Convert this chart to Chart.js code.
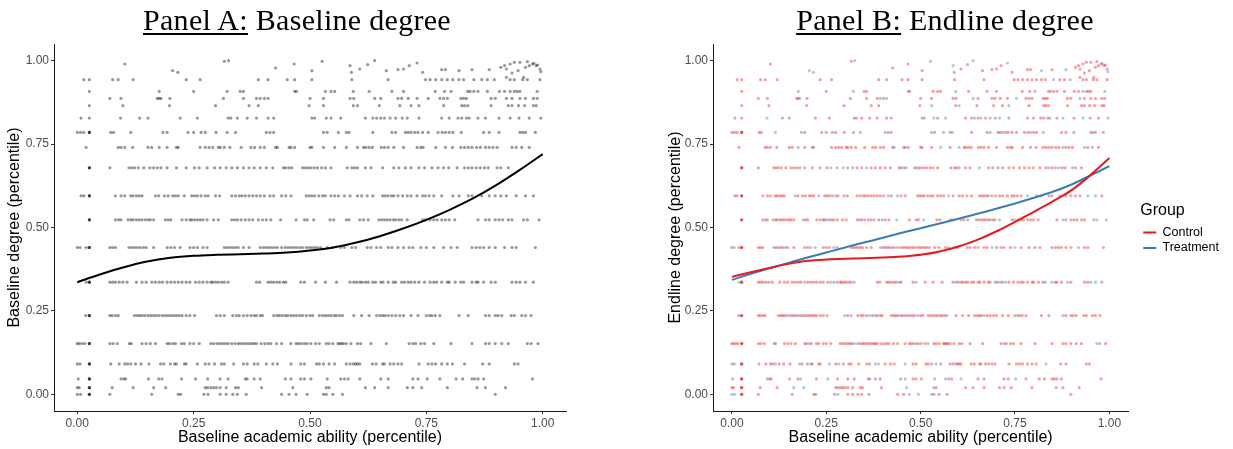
<!DOCTYPE html>
<html><head><meta charset="utf-8">
<script src="https://cdn.jsdelivr.net/npm/chart.js@4.4.1/dist/chart.umd.min.js"></script>
<style>
html,body{margin:0;padding:0;background:#fff;width:1233px;height:449px;overflow:hidden;}
.panel{position:absolute;top:0;height:449px;}
.title{position:absolute;top:3px;font-family:'Liberation Serif','Times New Roman',serif;font-size:30px;line-height:34px;letter-spacing:0.3px;color:#000;white-space:nowrap;transform:translateX(-50%);z-index:2;}
.title u{text-decoration-thickness:1.5px;text-underline-offset:3px;}
</style></head>
<body>
<div class="panel" style="left:0;width:600px"><canvas id="cA"></canvas></div>
<div class="panel" style="left:660px;width:573px"><canvas id="cB"></canvas></div>
<div class="title" style="left:297px"><u>Panel A:</u> Baseline degree</div>
<div class="title" style="left:945px"><u>Panel B:</u> Endline degree</div>
<script>
// ---- tick labels ----
const xTickValues = [0, 0.25, 0.5, 0.75, 1];
const xTickLabels = ['0.00', '0.25', '0.50', '0.75', '1.00'];
const yTickValues = [0, 0.25, 0.5, 0.75, 1];
const yTickLabels = ['0.00', '0.25', '0.50', '0.75', '1.00'];

// ---- degree percentile levels (rows of points) ----
const rowLevels = [0.000, 0.020, 0.046, 0.091, 0.152, 0.236, 0.336, 0.440, 0.523, 0.595, 0.679, 0.740, 0.785, 0.828, 0.865, 0.887, 0.908, 0.943];

// ---- baseline academic ability of students at each level ----
const rowX = [
 [0, 0.007, 0.026, 0.026, 0.026, 0.07, 0.16, 0.217, 0.222, 0.272, 0.281, 0.307, 0.32, 0.334, 0.344, 0.363, 0.439, 0.455, 0.47, 0.494, 0.529, 0.535, 0.549, 0.57, 0.898],
 [0, 0.004, 0.026, 0.026, 0.026, 0.075, 0.12, 0.164, 0.19, 0.275, 0.28, 0.287, 0.293, 0.299, 0.307, 0.32, 0.34, 0.346, 0.396, 0.463, 0.535, 0.541, 0.619, 0.639, 0.668, 0.709, 0.721, 0.74, 0.795, 0.859, 0.877, 0.92],
 [0.002, 0.026, 0.026, 0.026, 0.094, 0.1, 0.104, 0.153, 0.175, 0.182, 0.224, 0.254, 0.28, 0.307, 0.324, 0.361, 0.365, 0.38, 0.393, 0.447, 0.459, 0.48, 0.488, 0.502, 0.537, 0.566, 0.574, 0.582, 0.607, 0.652, 0.668, 0.721, 0.732, 0.752, 0.779, 0.814, 0.828, 0.848, 0.854, 0.861, 0.873, 0.978],
 [0, 0.006, 0.026, 0.026, 0.026, 0.072, 0.09, 0.102, 0.108, 0.115, 0.125, 0.137, 0.154, 0.179, 0.186, 0.2, 0.209, 0.213, 0.23, 0.234, 0.258, 0.275, 0.283, 0.295, 0.31, 0.316, 0.336, 0.357, 0.365, 0.38, 0.388, 0.406, 0.42, 0.43, 0.459, 0.48, 0.488, 0.514, 0.52, 0.529, 0.541, 0.553, 0.578, 0.586, 0.593, 0.598, 0.602, 0.607, 0.634, 0.642, 0.656, 0.66, 0.672, 0.68, 0.689, 0.697, 0.734, 0.754, 0.762, 0.77, 0.783, 0.795, 0.806, 0.832, 0.871, 0.885, 0.939, 0.947],
 [0, 0.004, 0.01, 0.016, 0.026, 0.026, 0.026, 0.07, 0.077, 0.086, 0.112, 0.116, 0.139, 0.148, 0.157, 0.168, 0.193, 0.198, 0.205, 0.211, 0.224, 0.23, 0.242, 0.25, 0.262, 0.287, 0.293, 0.3, 0.306, 0.312, 0.318, 0.324, 0.332, 0.339, 0.346, 0.351, 0.357, 0.363, 0.369, 0.375, 0.38, 0.385, 0.395, 0.403, 0.41, 0.416, 0.428, 0.439, 0.459, 0.47, 0.475, 0.481, 0.488, 0.494, 0.502, 0.512, 0.52, 0.535, 0.541, 0.549, 0.56, 0.564, 0.568, 0.572, 0.578, 0.588, 0.602, 0.609, 0.631, 0.664, 0.713, 0.721, 0.727, 0.738, 0.746, 0.766, 0.803, 0.848, 0.877, 0.885, 0.898, 0.912, 0.926, 0.967, 0.975, 0.99],
 [0.018, 0.026, 0.026, 0.026, 0.07, 0.075, 0.082, 0.088, 0.123, 0.129, 0.134, 0.139, 0.145, 0.152, 0.158, 0.164, 0.17, 0.176, 0.183, 0.189, 0.195, 0.201, 0.207, 0.213, 0.219, 0.225, 0.234, 0.242, 0.252, 0.299, 0.307, 0.316, 0.334, 0.342, 0.348, 0.357, 0.365, 0.373, 0.38, 0.385, 0.393, 0.398, 0.422, 0.429, 0.434, 0.44, 0.447, 0.452, 0.459, 0.465, 0.471, 0.478, 0.484, 0.492, 0.5, 0.506, 0.52, 0.527, 0.533, 0.539, 0.545, 0.552, 0.557, 0.564, 0.57, 0.594, 0.611, 0.627, 0.643, 0.65, 0.656, 0.661, 0.668, 0.676, 0.684, 0.693, 0.701, 0.717, 0.732, 0.75, 0.757, 0.762, 0.769, 0.779, 0.82, 0.84, 0.877, 0.885, 0.898, 0.904, 0.912, 0.932, 0.939, 0.955, 0.963, 0.975],
 [0.019, 0.026, 0.026, 0.026, 0.07, 0.076, 0.082, 0.09, 0.098, 0.107, 0.127, 0.139, 0.148, 0.16, 0.168, 0.176, 0.183, 0.193, 0.201, 0.209, 0.217, 0.225, 0.234, 0.242, 0.254, 0.262, 0.27, 0.279, 0.287, 0.291, 0.297, 0.303, 0.31, 0.316, 0.324, 0.385, 0.392, 0.41, 0.416, 0.422, 0.429, 0.435, 0.443, 0.448, 0.48, 0.488, 0.512, 0.533, 0.557, 0.586, 0.594, 0.6, 0.607, 0.612, 0.619, 0.625, 0.635, 0.641, 0.652, 0.657, 0.668, 0.679, 0.684, 0.697, 0.703, 0.711, 0.717, 0.725, 0.734, 0.746, 0.758, 0.766, 0.772, 0.783, 0.795, 0.799, 0.812, 0.824, 0.83, 0.848, 0.857, 0.861, 0.873, 0.889, 0.898, 0.934, 0.943, 0.951, 0.963, 0.98],
 [0, 0.006, 0.019, 0.026, 0.026, 0.026, 0.07, 0.076, 0.082, 0.111, 0.117, 0.123, 0.129, 0.135, 0.142, 0.148, 0.164, 0.193, 0.201, 0.209, 0.221, 0.242, 0.25, 0.258, 0.27, 0.279, 0.316, 0.322, 0.328, 0.334, 0.34, 0.346, 0.357, 0.369, 0.393, 0.4, 0.406, 0.412, 0.418, 0.424, 0.43, 0.439, 0.447, 0.453, 0.459, 0.465, 0.471, 0.478, 0.484, 0.492, 0.498, 0.504, 0.51, 0.516, 0.523, 0.537, 0.549, 0.566, 0.574, 0.59, 0.598, 0.623, 0.631, 0.643, 0.652, 0.668, 0.676, 0.689, 0.701, 0.713, 0.721, 0.738, 0.75, 0.766, 0.787, 0.803, 0.816, 0.848, 0.857, 0.865, 0.873, 0.885, 0.898, 0.918, 0.934, 0.943, 0.984],
 [0.026, 0.026, 0.026, 0.082, 0.089, 0.094, 0.109, 0.115, 0.12, 0.127, 0.133, 0.139, 0.146, 0.152, 0.157, 0.164, 0.189, 0.195, 0.201, 0.225, 0.234, 0.242, 0.246, 0.252, 0.258, 0.264, 0.27, 0.279, 0.293, 0.303, 0.332, 0.338, 0.344, 0.352, 0.361, 0.369, 0.377, 0.389, 0.398, 0.406, 0.416, 0.437, 0.47, 0.488, 0.494, 0.508, 0.543, 0.551, 0.578, 0.584, 0.607, 0.615, 0.625, 0.648, 0.654, 0.66, 0.666, 0.672, 0.679, 0.684, 0.691, 0.697, 0.709, 0.742, 0.748, 0.758, 0.766, 0.773, 0.783, 0.791, 0.799, 0.811, 0.861, 0.877, 0.885, 0.898, 0.906, 0.914, 0.926, 0.934, 0.959, 0.967, 0.992],
 [0.008, 0.014, 0.026, 0.026, 0.026, 0.082, 0.094, 0.102, 0.115, 0.12, 0.127, 0.133, 0.139, 0.168, 0.175, 0.187, 0.195, 0.205, 0.211, 0.217, 0.23, 0.246, 0.252, 0.258, 0.266, 0.275, 0.281, 0.297, 0.306, 0.332, 0.34, 0.348, 0.354, 0.361, 0.369, 0.377, 0.385, 0.393, 0.402, 0.414, 0.422, 0.439, 0.448, 0.459, 0.492, 0.498, 0.504, 0.51, 0.519, 0.527, 0.533, 0.545, 0.553, 0.561, 0.574, 0.586, 0.602, 0.611, 0.623, 0.635, 0.656, 0.662, 0.668, 0.675, 0.68, 0.689, 0.699, 0.709, 0.717, 0.73, 0.742, 0.748, 0.756, 0.766, 0.783, 0.807, 0.82, 0.84, 0.848, 0.869, 0.885, 0.898, 0.91, 0.922, 0.943, 0.963, 0.98],
 [0.026, 0.026, 0.026, 0.07, 0.111, 0.117, 0.123, 0.131, 0.143, 0.156, 0.164, 0.172, 0.18, 0.193, 0.213, 0.234, 0.252, 0.262, 0.279, 0.295, 0.307, 0.32, 0.332, 0.344, 0.357, 0.369, 0.38, 0.393, 0.406, 0.42, 0.443, 0.448, 0.455, 0.461, 0.484, 0.49, 0.496, 0.502, 0.509, 0.516, 0.525, 0.533, 0.545, 0.58, 0.59, 0.596, 0.602, 0.619, 0.631, 0.656, 0.68, 0.691, 0.705, 0.717, 0.734, 0.746, 0.762, 0.775, 0.787, 0.798, 0.816, 0.832, 0.84, 0.848, 0.857, 0.866, 0.875, 0.883, 0.902, 0.91, 0.926],
 [0.019, 0.088, 0.094, 0.102, 0.119, 0.152, 0.16, 0.176, 0.193, 0.213, 0.217, 0.264, 0.275, 0.283, 0.291, 0.303, 0.307, 0.316, 0.328, 0.352, 0.373, 0.381, 0.393, 0.402, 0.426, 0.43, 0.455, 0.459, 0.467, 0.5, 0.504, 0.529, 0.553, 0.578, 0.602, 0.615, 0.62, 0.627, 0.634, 0.653, 0.66, 0.668, 0.68, 0.701, 0.73, 0.738, 0.743, 0.77, 0.791, 0.806, 0.824, 0.832, 0.84, 0.848, 0.858, 0.866, 0.877, 0.885, 0.893, 0.902, 0.934, 0.943, 0.955, 0.971],
 [0, 0.007, 0.014, 0.026, 0.026, 0.026, 0.072, 0.078, 0.115, 0.184, 0.193, 0.238, 0.25, 0.266, 0.275, 0.298, 0.322, 0.34, 0.406, 0.414, 0.422, 0.529, 0.537, 0.561, 0.578, 0.584, 0.635, 0.676, 0.684, 0.705, 0.711, 0.717, 0.725, 0.732, 0.742, 0.754, 0.775, 0.784, 0.791, 0.799, 0.807, 0.825, 0.873, 0.885, 0.906, 0.951, 0.957, 0.963, 0.984],
 [0.008, 0.026, 0.093, 0.134, 0.152, 0.221, 0.258, 0.324, 0.33, 0.344, 0.365, 0.385, 0.41, 0.422, 0.504, 0.51, 0.535, 0.545, 0.566, 0.619, 0.635, 0.643, 0.652, 0.66, 0.672, 0.684, 0.698, 0.709, 0.734, 0.783, 0.799, 0.818, 0.826, 0.836, 0.842, 0.861, 0.877, 0.906, 0.93, 0.949, 0.971, 0.996],
 [0.026, 0.098, 0.198, 0.297, 0.369, 0.389, 0.498, 0.529, 0.593, 0.602, 0.649, 0.693, 0.717, 0.734, 0.787, 0.826, 0.832, 0.839, 0.889, 0.926, 0.934, 0.948, 0.961, 0.98, 0.986],
 [0.07, 0.094, 0.172, 0.176, 0.18, 0.199, 0.314, 0.357, 0.385, 0.393, 0.402, 0.41, 0.5, 0.529, 0.586, 0.594, 0.639, 0.652, 0.689, 0.697, 0.711, 0.73, 0.754, 0.779, 0.787, 0.795, 0.824, 0.83, 0.836, 0.889, 0.898, 0.922, 0.934, 0.951, 0.963, 0.98, 0.988],
 [0.026, 0.176, 0.25, 0.322, 0.35, 0.357, 0.467, 0.471, 0.533, 0.545, 0.553, 0.593, 0.627, 0.676, 0.701, 0.769, 0.789, 0.803, 0.839, 0.844, 0.852, 0.861, 0.881, 0.907, 0.918, 0.93, 0.939, 0.945, 0.951, 0.988],
 [0.014, 0.026, 0.076, 0.088, 0.12, 0.234, 0.264, 0.389, 0.41, 0.451, 0.467, 0.504, 0.59, 0.668, 0.748, 0.758, 0.77, 0.783, 0.795, 0.807, 0.82, 0.83, 0.852, 0.869, 0.881, 0.896, 0.93, 0.939, 0.957, 0.967, 0.994]
];

// ---- top-degree students (irregular values near 1) ----
const topX = [0.102, 0.205, 0.216, 0.316, 0.325, 0.426, 0.466, 0.504, 0.526, 0.586, 0.589, 0.607, 0.624, 0.639, 0.664, 0.689, 0.701, 0.713, 0.73, 0.742, 0.783, 0.791, 0.82, 0.848, 0.885, 0.91, 0.918, 0.922, 0.93, 0.939, 0.947, 0.951, 0.963, 0.967, 0.971, 0.978, 0.981, 0.986, 0.989, 0.994, 0.996, 0.959, 0.922, 0.934];
const topY = [0.99, 0.97, 0.965, 0.998, 1.0, 0.978, 0.99, 0.97, 0.998, 0.985, 0.965, 0.975, 0.988, 1.0, 0.97, 0.973, 0.975, 0.985, 0.993, 0.965, 0.973, 0.973, 0.97, 0.973, 0.973, 0.98, 0.985, 0.975, 0.99, 0.995, 0.97, 0.995, 0.98, 0.997, 0.985, 0.99, 0.992, 0.985, 0.987, 0.975, 0.967, 0.95, 0.95, 0.963];
const topGroup = ['C','T','T','C','T','C','C','C','T','T','C','C','C','T','C','C','C','C','T','C','C','C','T','C','T','C','C','C','C','C','C','C','C','C','C','C','T','C','C','C','T','C','C','C'];

// ---- treatment students at each level (Panel B, blue) ----
const treatRowX = [
 [0, 0.007, 0.281, 0.47, 0.494, 0.529],
 [0.164, 0.19, 0.275, 0.463, 0.535],
 [0.1, 0.182, 0.254, 0.361, 0.459, 0.537, 0.566, 0.607, 0.752],
 [0, 0.115, 0.179, 0.209, 0.258, 0.283, 0.38, 0.388, 0.459, 0.541, 0.593, 0.832],
 [0.116, 0.205, 0.324, 0.332, 0.488, 0.52, 0.721, 0.967, 0.975],
 [0.026, 0.152, 0.17, 0.189, 0.299, 0.316, 0.365, 0.38, 0.447, 0.465, 0.492, 0.533, 0.57, 0.668, 0.757, 0.877],
 [0.019, 0.193, 0.262, 0.27, 0.324, 0.443, 0.488, 0.6, 0.697, 0.711, 0.725, 0.83, 0.848, 0.889, 0.951, 0.963],
 [0.006, 0.111, 0.123, 0.142, 0.209, 0.221, 0.27, 0.393, 0.424, 0.447, 0.574, 0.689, 0.75, 0.918],
 [0.089, 0.109, 0.189, 0.252, 0.258, 0.338, 0.377, 0.398, 0.437, 0.508, 0.654, 0.684, 0.709, 0.748, 0.877, 0.959, 0.967, 0.992],
 [0.026, 0.168, 0.23, 0.275, 0.414, 0.439, 0.574, 0.68, 0.783, 0.82, 0.943, 0.963],
 [0.262, 0.279, 0.295, 0.32, 0.357, 0.455, 0.49, 0.502, 0.602, 0.656, 0.84, 0.866, 0.902],
 [0.176, 0.217, 0.43, 0.455, 0.553, 0.602, 0.877, 0.934, 0.955],
 [0.115, 0.184, 0.34, 0.406, 0.529, 0.561, 0.584, 0.684, 0.717, 0.791, 0.825, 0.957],
 [0.093, 0.51, 0.535, 0.566, 0.643, 0.66, 0.684, 0.709, 0.836, 0.877, 0.93, 0.996],
 [0.529, 0.602, 0.734],
 [0.18, 0.393, 0.41, 0.639, 0.754, 0.922],
 [0.176, 0.322, 0.467, 0.593, 0.803, 0.844, 0.93, 0.988],
 [0.852, 0.896]
];

// ---- smoothed fits ----
const smoothX = [0, 0.05, 0.1, 0.15, 0.2, 0.25, 0.3, 0.35, 0.4, 0.45, 0.5, 0.55, 0.6, 0.65, 0.7, 0.75, 0.8, 0.85, 0.9, 0.95, 1.0];
const smoothAll = [0.336, 0.36, 0.381, 0.398, 0.409, 0.415, 0.418, 0.42, 0.422, 0.425, 0.431, 0.44, 0.455, 0.474, 0.497, 0.523, 0.553, 0.587, 0.627, 0.672, 0.72];
const smoothControl = [0.352, 0.366, 0.379, 0.391, 0.4, 0.404, 0.406, 0.408, 0.41, 0.413, 0.418, 0.428, 0.443, 0.463, 0.488, 0.517, 0.547, 0.578, 0.612, 0.657, 0.708];
const smoothTreatment = [0.343, 0.361, 0.378, 0.394, 0.41, 0.425, 0.44, 0.455, 0.469, 0.484, 0.498, 0.512, 0.526, 0.541, 0.556, 0.572, 0.589, 0.607, 0.629, 0.656, 0.684];

// ---------------- build datasets ----------------
const allPts = [];
rowX.forEach((xs, i) => xs.forEach(x => allPts.push({x: x, y: rowLevels[i]})));
topX.forEach((x, i) => allPts.push({x: x, y: topY[i]}));

const ctrlPts = [], treatPts = [];
rowX.forEach((xs, i) => {
  const rest = xs.slice();
  treatRowX[i].forEach(t => {
    const k = rest.indexOf(t);
    if (k >= 0) rest.splice(k, 1);
    treatPts.push({x: t, y: rowLevels[i]});
  });
  rest.forEach(x => ctrlPts.push({x: x, y: rowLevels[i]}));
});
topX.forEach((x, i) => (topGroup[i] === 'T' ? treatPts : ctrlPts).push({x: x, y: topY[i]}));

const toLine = ys => smoothX.map((x, i) => ({x: x, y: ys[i]}));

Chart.defaults.font.family = "'Liberation Sans', Arial, sans-serif";
Chart.defaults.animation = false;

function xAxis() {
  return {
    type: 'linear', min: -0.05, max: 1.05,
    afterBuildTicks: s => { s.ticks = xTickValues.map(v => ({value: v})); },
    afterFit: s => { s.height = 38; },
    ticks: {callback: v => xTickLabels[xTickValues.indexOf(v)], color: '#4d4d4d', font: {size: 12}, padding: 2, maxRotation: 0, autoSkip: false},
    grid: {display: true, drawOnChartArea: false, drawTicks: true, tickLength: 3, tickColor: '#333', color: '#333'},
    border: {display: true, color: '#1a1a1a', width: 1},
    title: {display: true, text: 'Baseline academic ability (percentile)', color: '#000', font: {size: 16}, padding: {top: 0, bottom: 2}}
  };
}
function yAxis(title, w, tpad) {
  return {
    type: 'linear', min: -0.05, max: 1.05,
    afterBuildTicks: s => { s.ticks = yTickValues.map(v => ({value: v})); },
    afterFit: s => { s.width = w; },
    ticks: {callback: v => yTickLabels[yTickValues.indexOf(v)], color: '#4d4d4d', font: {size: 12}, padding: 2, autoSkip: false},
    grid: {display: true, drawOnChartArea: false, drawTicks: true, tickLength: 3, tickColor: '#333', color: '#333'},
    border: {display: true, color: '#1a1a1a', width: 1},
    title: {display: true, text: title, color: '#000', font: {size: 16}, padding: {top: tpad, bottom: 0}}
  };
}

new Chart(document.getElementById('cA'), {
  type: 'scatter',
  data: {datasets: [
    {label: 'Smooth', data: toLine(smoothAll), showLine: true, borderColor: '#000', borderWidth: 2, pointRadius: 0, cubicInterpolationMode: 'monotone', fill: false},
    {label: 'Students', data: allPts, pointRadius: 1.6, pointBorderWidth: 0, pointBackgroundColor: 'rgba(0,0,0,0.4)', backgroundColor: 'rgba(0,0,0,0.4)'}
  ]},
  options: {
    responsive: true, maintainAspectRatio: false, devicePixelRatio: 1,
    layout: {padding: {top: 44, right: 34, bottom: 0, left: 0}},
    plugins: {legend: {display: false}, tooltip: {enabled: false}},
    scales: {x: xAxis(), y: yAxis('Baseline degree (percentile)', 54, 5)}
  }
});

new Chart(document.getElementById('cB'), {
  type: 'scatter',
  data: {datasets: [
    {label: 'Control', data: toLine(smoothControl), showLine: true, borderColor: '#E41A1C', backgroundColor: '#E41A1C', borderWidth: 2, pointRadius: 0, cubicInterpolationMode: 'monotone', fill: false},
    {label: 'Treatment', data: toLine(smoothTreatment), showLine: true, borderColor: '#377EB8', backgroundColor: '#377EB8', borderWidth: 2, pointRadius: 0, cubicInterpolationMode: 'monotone', fill: false},
    {label: 'Control pts', data: ctrlPts, pointRadius: 1.6, pointBorderWidth: 0, pointBackgroundColor: 'rgba(228,26,28,0.4)', backgroundColor: 'rgba(228,26,28,0.4)'},
    {label: 'Treatment pts', data: treatPts, pointRadius: 1.6, pointBorderWidth: 0, pointBackgroundColor: 'rgba(55,126,184,0.4)', backgroundColor: 'rgba(55,126,184,0.4)'}
  ]},
  options: {
    responsive: true, maintainAspectRatio: false, devicePixelRatio: 1,
    layout: {padding: {top: 44, right: 4, bottom: 0, left: 0}},
    plugins: {
      tooltip: {enabled: false},
      legend: {
        display: true, position: 'right', align: 'start',
        title: {display: true, text: 'Group', color: '#000', font: {size: 16}, position: 'start', padding: {top: 159, bottom: 1}},
        labels: {
          filter: item => item.datasetIndex < 2,
          usePointStyle: true, pointStyle: 'line', pointStyleWidth: 13, boxHeight: 12,
          color: '#000', font: {size: 12.5}, padding: 3
        }
      }
    },
    scales: {
      x: xAxis(),
      y: yAxis('Endline degree (percentile)', 53, 6),
      gap: {position: 'right', display: true, grid: {display: false}, border: {display: false}, ticks: {display: false}, afterFit: s => { s.width = 12; }}
    }
  }
});
</script>
</body></html>
